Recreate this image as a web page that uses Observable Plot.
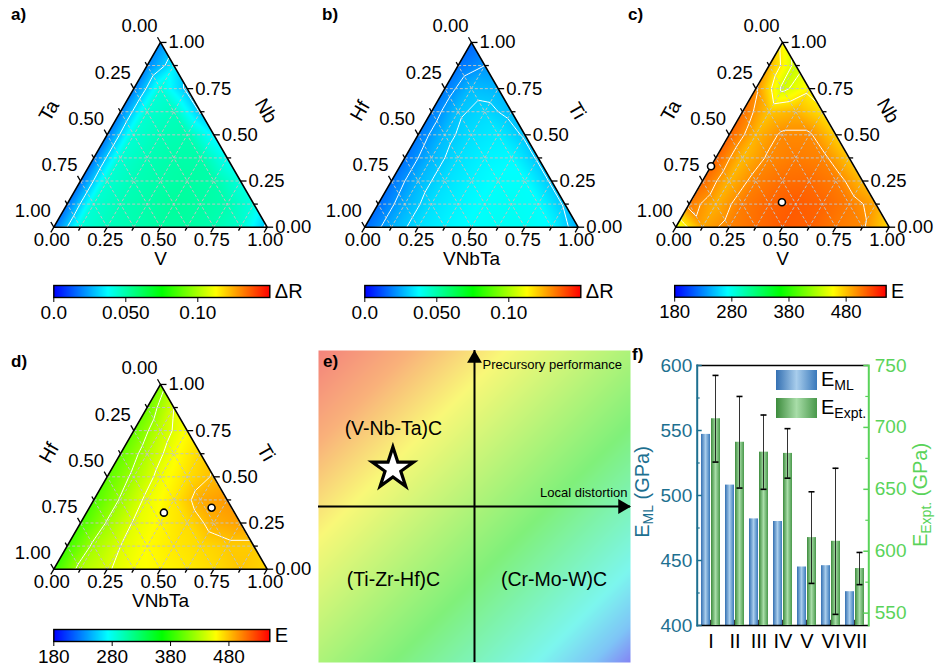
<!DOCTYPE html>
<html><head><meta charset="utf-8">
<script src="https://cdn.jsdelivr.net/npm/d3@7"></script>
<script src="https://cdn.jsdelivr.net/npm/@observablehq/plot@0.6"></script>
<style>
body{margin:0;background:#fff;font-family:"Liberation Sans",Arial,sans-serif;}
#fig{position:relative;width:935px;height:668px;overflow:hidden;background:#fff;}
.abs{position:absolute;}
.plab{position:absolute;font-weight:bold;font-size:17px;line-height:17px;color:#000;}
.rot{position:absolute;white-space:nowrap;transform:translate(-50%,-50%) rotate(-90deg);font-size:20px;line-height:20px;}
sub{font-size:70%;vertical-align:-0.3em;line-height:0;}
.leg{position:absolute;font-size:20px;line-height:20px;white-space:nowrap;}
</style></head><body>
<svg width="0" height="0" style="position:absolute">
  <defs>
    <linearGradient id="gradBlue" x1="0" x2="1" y1="0" y2="0">
      <stop offset="0" stop-color="#3470b2"/><stop offset="0.5" stop-color="#a8cdec"/><stop offset="1" stop-color="#3a79bb"/>
    </linearGradient>
    <linearGradient id="gradGreen" x1="0" x2="1" y1="0" y2="0">
      <stop offset="0" stop-color="#3c8b3c"/><stop offset="0.5" stop-color="#a8dda8"/><stop offset="1" stop-color="#48984a"/>
    </linearGradient>
  </defs>
</svg>
<div id="fig"></div>
<script>
// ===================== DATA =====================
// Ternary axis ticks
const ternaryTickValues = [0, 0.25, 0.5, 0.75, 1];
const ternaryTickText = ["0.00", "0.25", "0.50", "0.75", "1.00"];
const ternaryMinorValues = [0.125, 0.375, 0.625, 0.875];
const ternaryGridValues = [0.125, 0.25, 0.375, 0.5, 0.625, 0.75, 0.875];

// Sampled fields: row r -> right-axis fraction r/8, column c -> bottom-axis fraction c/8
// a) ΔR of V-Nb-Ta
const gridA = [
  [0.017, 0.043, 0.047, 0.049, 0.051, 0.051, 0.049, 0.045, 0.028],
  [0.017, 0.044, 0.048, 0.050, 0.052, 0.051, 0.049, 0.042],
  [0.017, 0.044, 0.048, 0.050, 0.051, 0.050, 0.042],
  [0.018, 0.044, 0.048, 0.050, 0.050, 0.039],
  [0.018, 0.044, 0.048, 0.049, 0.036],
  [0.019, 0.044, 0.047, 0.029],
  [0.019, 0.043, 0.028],
  [0.020, 0.035],
  [0.021]
];
const contoursA = [0.03];
// b) ΔR of VNbTa-Ti-Hf
const gridB = [
  [0.016, 0.026, 0.033, 0.036, 0.038, 0.039, 0.039, 0.037, 0.026],
  [0.016, 0.026, 0.033, 0.036, 0.038, 0.039, 0.038, 0.029],
  [0.017, 0.027, 0.033, 0.036, 0.038, 0.038, 0.029],
  [0.017, 0.027, 0.033, 0.036, 0.037, 0.029],
  [0.018, 0.028, 0.033, 0.035, 0.029],
  [0.018, 0.029, 0.032, 0.028],
  [0.018, 0.028, 0.027],
  [0.017, 0.022],
  [0.015]
];
const contoursB = [0.022, 0.03];
// c) E of V-Nb-Ta
const gridC = [
  [445, 490, 502, 510, 517, 515, 506, 500, 470],
  [505, 486, 505, 513, 517, 513, 505, 490],
  [512, 484, 503, 510, 511, 505, 482],
  [514, 482, 500, 505, 502, 478],
  [514, 484, 500, 500, 475],
  [510, 478, 485, 468],
  [500, 440, 460],
  [485, 438],
  [460]
];
const contoursC = [445, 465, 497];
const markersC = [{bottom: 0.0, right: 0.33}, {bottom: 0.43, right: 0.135}];
// d) E of VNbTa-Ti-Hf
const gridD = [
  [385, 428, 443, 455, 460, 465, 470, 478, 472],
  [388, 425, 445, 458, 465, 470, 476, 476],
  [390, 422, 447, 460, 470, 486, 492],
  [393, 422, 450, 465, 488, 495],
  [398, 425, 452, 468, 482],
  [400, 430, 455, 472],
  [402, 435, 458],
  [405, 445],
  [412]
];
const contoursD = [420, 445, 480];
const markersD = [{bottom: 0.363, right: 0.306}, {bottom: 0.573, right: 0.333}];

// colour bars
const jetColors = ["#0000ff", "#00ffff", "#00ff00", "#ffff00", "#ff0000"];
const deltaRStops = [0, 0.0375, 0.075, 0.1125, 0.15];
const deltaRTicks = [0, 0.05, 0.1];
const deltaRTickText = ["0.0", "0.050", "0.10"];
const eStops = [180, 272.5, 365, 457.5, 550];
const eTicks = [180, 280, 380, 480];
const eTickText = ["180", "280", "380", "480"];

// e) quadrant diagram
const bgLevels = [
  {distortion: -1, performance: 1, level: 0},
  {distortion: 1, performance: 1, level: 0.5},
  {distortion: -1, performance: -1, level: 0.5},
  {distortion: 1, performance: -1, level: 1}
];
const bgStops = [0, 0.15, 0.3, 0.62, 0.85, 0.94, 1];
const bgColors = ["#f4837c", "#f9b27a", "#f9f878", "#80f07a", "#7cf6ee", "#7ec4f6", "#8484f4"];
const quadrants = [
  {name: "(V-Nb-Ta)C", distortion: -0.52, performance: 0.5},
  {name: "(Ti-Zr-Hf)C", distortion: -0.52, performance: -0.47},
  {name: "(Cr-Mo-W)C", distortion: 0.51, performance: -0.47}
];
const starPoint = [{distortion: -0.523, performance: 0.242}];

// f) bar chart
const categories = ["I", "II", "III", "IV", "V", "VI", "VII"];
const eML = [547, 508, 482, 480, 445, 446, 426];
const eExpt = [707, 688, 680, 679, 611, 608, 586];
const eExptErr = [35, 37, 30, 20, 37, 59, 13];
const mlTicks = [400, 450, 500, 550, 600];
const mlMinorTicks = [425, 475, 525, 575];
const exptTicks = [550, 600, 650, 700, 750];
const exptMinorTicks = [575, 625, 675, 725];

// ===================== DRAWING =====================
const FONT = "Liberation Sans, Arial, sans-serif";
const fig = document.getElementById("fig");
const H3 = Math.sqrt(3) / 2;
const toXY = (b, r) => [b + r / 2, r * H3];
function place(el, left, top) {
  const d = document.createElement("div");
  d.className = "abs"; d.style.left = left + "px"; d.style.top = top + "px";
  d.appendChild(el); fig.appendChild(d); return d;
}
function html(cls, inner, left, top, color) {
  const d = document.createElement("div");
  d.className = cls; d.innerHTML = inner; d.style.left = left + "px"; d.style.top = top + "px";
  if (color) d.style.color = color;
  fig.appendChild(d); return d;
}

const S = 213.33, OX = 53.33, BASE = 226.7, TW = 310, TH = 272;
let clipCount = 0;
function ternary(cfg) {
  const samples = [];
  cfg.grid.forEach((row, r) => row.forEach((v, c) => {
    const [x, y] = toXY(c / 8, r / 8); samples.push({x, y, v});
  }));
  const gridSegs = ternaryGridValues.flatMap(t => [
    [toXY(t, 0), toXY(t, 1 - t)],
    [toXY(0, t), toXY(1 - t, t)],
    [toXY(1 - t, 0), toXY(0, 1 - t)]
  ]).map(([a, b]) => ({x1: a[0], y1: a[1], x2: b[0], y2: b[1]}));
  const edgePoint = {bottom: t => toXY(t, 0), right: t => toXY(1 - t, t), left: t => toXY(0, 1 - t)};
  const dirs = {bottom: [-0.5, -H3], right: [1, 0], left: [-0.5, H3]};
  const tickDefs = [...ternaryTickValues.map(t => ({t, len: 6})), ...ternaryMinorValues.map(t => ({t, len: 4}))];
  const tickSegs = [];
  for (const side of ["bottom", "right", "left"]) for (const {t, len} of tickDefs) {
    const [x, y] = edgePoint[side](t), [dx, dy] = dirs[side];
    tickSegs.push({x1: x, y1: y, x2: x + dx * len / S, y2: y + dy * len / S});
  }
  const labels = side => ternaryTickValues.map((t, i) => {
    const [x, y] = edgePoint[side](t); return {x, y, text: ternaryTickText[i]};
  });
  const outline = [[0, 0], [1, 0], [0, 1], [0, 0]].map(([b, r]) => toXY(b, r));
  const titleB = [{p: toXY(0.5, 0), text: cfg.titles[0]}];
  const titleR = [{p: toXY(0.5, 0.5), text: cfg.titles[1]}];
  const titleL = [{p: toXY(0, 0.5), text: cfg.titles[2]}];
  const marks = [
    Plot.raster(samples, {x: "x", y: "y", fill: "v", interpolate: "barycentric", pixelSize: 1}),
    Plot.contour(samples, {x: "x", y: "y", value: "v", interpolate: "barycentric", thresholds: cfg.thresholds,
      stroke: "white", fill: "none", strokeWidth: 1, pixelSize: 1}),
    Plot.link(gridSegs, {x1: "x1", y1: "y1", x2: "x2", y2: "y2", stroke: "#c2c2c2", strokeWidth: 1, strokeDasharray: "3,2"}),
    Plot.line(outline, {x: d => d[0], y: d => d[1], stroke: "black", strokeWidth: 1.6}),
    Plot.link(tickSegs, {x1: "x1", y1: "y1", x2: "x2", y2: "y2", stroke: "black", strokeWidth: 1.3}),
    Plot.text(labels("bottom"), {x: "x", y: "y", text: "text", dy: 13, dx: -2, fontSize: 18.5}),
    Plot.text(labels("right"), {x: "x", y: "y", text: "text", dx: 8, textAnchor: "start", fontSize: 18.5}),
    Plot.text(labels("left"), {x: "x", y: "y", text: "text", dx: -3, dy: -16, textAnchor: "end", fontSize: 18.5}),
    Plot.text(titleB, {x: d => d.p[0], y: d => d.p[1], text: "text", dy: 32, fontSize: 19}),
    Plot.text(titleR, {x: d => d.p[0], y: d => d.p[1], text: "text", dx: 52, dy: -24, rotate: 60, fontSize: 19.5}),
    Plot.text(titleL, {x: d => d.p[0], y: d => d.p[1], text: "text", dx: -58, dy: -24, rotate: -60, fontSize: 19.5})
  ];
  if (cfg.markers) marks.push(Plot.dot(cfg.markers.map(m => toXY(m.bottom, m.right)),
    {x: d => d[0], y: d => d[1], r: 3.5, fill: "white", stroke: "black", strokeWidth: 1.6}));
  const plot = Plot.plot({
    width: TW, height: TH, margin: 0,
    x: {domain: [-OX / S, (TW - OX) / S], axis: null},
    y: {domain: [(BASE - TH) / S, BASE / S], axis: null},
    color: {type: "linear", domain: cfg.stops, range: jetColors, interpolate: "rgb", clamp: true},
    style: {fontFamily: FONT, background: "transparent", overflow: "visible", color: "black"},
    marks
  });
  // clip the interpolated field and contours to the triangle
  const sx = plot.scale("x"), sy = plot.scale("y");
  const id = "triclip" + (clipCount++);
  const ns = "http://www.w3.org/2000/svg";
  const defs = document.createElementNS(ns, "defs");
  const cp = document.createElementNS(ns, "clipPath"); cp.setAttribute("id", id);
  const poly = document.createElementNS(ns, "polygon");
  poly.setAttribute("points", outline.slice(0, 3).map(([x, y]) => sx.apply(x) + "," + sy.apply(y)).join(" "));
  cp.appendChild(poly); defs.appendChild(cp); plot.insertBefore(defs, plot.firstChild);
  plot.querySelectorAll('g[aria-label="raster"], g[aria-label="contour"]').forEach(g => g.setAttribute("clip-path", `url(#${id})`));
  return plot;
}

function colorbar(cfg) {
  const d0 = cfg.stops[0], d1 = cfg.stops[cfg.stops.length - 1];
  const fmt = new Map(cfg.ticks.map((t, i) => [t, cfg.tickText[i]]));
  return Plot.plot({
    width: 320, height: cfg.height, marginLeft: 53.3, marginRight: 320 - 269.3, marginTop: 1, marginBottom: cfg.height - 13,
    x: {domain: [d0, d1]}, y: {domain: [0, 1], axis: null},
    color: {type: "linear", domain: cfg.stops, range: jetColors, interpolate: "rgb", clamp: true},
    style: {fontFamily: FONT, background: "transparent", overflow: "visible", color: "black"},
    marks: [
      Plot.raster({fill: (x, y) => x, x1: d0, x2: d1, y1: 0, y2: 1, pixelSize: 1}),
      Plot.frame({stroke: "black", strokeWidth: 1.4}),
      Plot.axisX({ticks: cfg.ticks, tickFormat: d => fmt.get(d), tickSize: 5, tickPadding: 3, fontSize: 19, label: null}),
      Plot.text([cfg.label], {text: d => d, frameAnchor: "right", dx: 5, textAnchor: "start", fontSize: 20})
    ]
  });
}

// panels a–d
place(ternary({grid: gridA, thresholds: contoursA, stops: deltaRStops, titles: ["V", "Nb", "Ta"]}), 0, 0);
place(ternary({grid: gridB, thresholds: contoursB, stops: deltaRStops, titles: ["VNbTa", "Ti", "Hf"]}), 311, 0);
place(ternary({grid: gridC, thresholds: contoursC, stops: eStops, titles: ["V", "Nb", "Ta"], markers: markersC}), 621.7, 0);
place(ternary({grid: gridD, thresholds: contoursD, stops: eStops, titles: ["VNbTa", "Ti", "Hf"], markers: markersD}), 0, 341.6);
place(colorbar({stops: deltaRStops, ticks: deltaRTicks, tickText: deltaRTickText, label: "ΔR", height: 44}), 0, 284);
place(colorbar({stops: deltaRStops, ticks: deltaRTicks, tickText: deltaRTickText, label: "ΔR", height: 44}), 311, 284);
place(colorbar({stops: eStops, ticks: eTicks, tickText: eTickText, label: "E", height: 44}), 621.7, 284);
place(colorbar({stops: eStops, ticks: eTicks, tickText: eTickText, label: "E", height: 40}), 0, 628);

// panel e
const ePlot = Plot.plot({
  width: 312, height: 312, margin: 0,
  x: {domain: [-1, 1], axis: null}, y: {domain: [-1, 1], axis: null},
  color: {type: "linear", domain: bgStops, range: bgColors, interpolate: "rgb"},
  style: {fontFamily: FONT, background: "transparent", overflow: "visible", color: "black"},
  marks: [
    Plot.raster(bgLevels, {x: "distortion", y: "performance", fill: "level", interpolate: "barycentric", pixelSize: 1}),
    Plot.ruleY([0], {stroke: "black", strokeWidth: 2}),
    Plot.ruleX([0], {stroke: "black", strokeWidth: 2}),
    Plot.dot([0], {y: d => d, frameAnchor: "right", symbol: "triangle", rotate: 90, r: 5.5, fill: "black", dx: -8}),
    Plot.dot([0], {x: d => d, frameAnchor: "top", symbol: "triangle", r: 5.5, fill: "black", dy: 8}),
    Plot.text(["Precursory performance"], {x: 0, text: d => d, frameAnchor: "top", dx: 8, dy: 9, textAnchor: "start", fontSize: 13}),
    Plot.text(["Local distortion"], {y: 0, text: d => d, frameAnchor: "right", dx: -3, dy: -14, textAnchor: "end", fontSize: 13}),
    Plot.text(quadrants, {x: "distortion", y: "performance", text: "name", fontSize: 19.5}),
    Plot.dot(starPoint, {x: "distortion", y: "performance", symbol: "star", r: 13, fill: "white", stroke: "black", strokeWidth: 3.2})
  ]
});
place(ePlot, 318.3, 350);

// panel f
const fData = categories.map((cat, i) => ({cat, ml: eML[i], expt: eExpt[i], err: eExptErr[i]}));
const FW = 305, FH = 328, FML = 66.7, FMR = 66.7, FMT = 25, FMB = 43;
const fw = FW - FML - FMR;
const PI = 0.19, PO = 0.07;
const step = fw / (categories.length - PI + 2 * PO), bw = step * (1 - PI), half = bw / 2;
const teal = "#1d7090", green = "#5ad35a";
const mlDomain = [400, 600], exptDomain = [540, 750];
const xBand = {type: "band", domain: categories, paddingInner: PI, paddingOuter: PO, axis: null};
const f1 = Plot.plot({
  width: FW, height: FH, marginLeft: FML, marginRight: FMR, marginTop: FMT, marginBottom: FMB,
  x: xBand, y: {domain: mlDomain, axis: null},
  style: {fontFamily: FONT, background: "transparent", overflow: "visible", color: "black"},
  marks: [
    Plot.barY(fData, {x: "cat", y1: mlDomain[0], y2: "ml", fill: "url(#gradBlue)", insetRight: half}),
    Plot.barY(categories, {x: d => d, y1: mlDomain[0], y2: mlDomain[0] + 4, fill: "black", insetLeft: half - 0.9, insetRight: half - 0.9}),
    Plot.ruleY(mlDomain, {stroke: "black", strokeWidth: 1.6}),
    Plot.tickY(mlTicks, {y: d => d, stroke: teal, strokeWidth: 1.5, insetRight: fw - 5}),
    Plot.tickY(mlMinorTicks, {y: d => d, stroke: teal, strokeWidth: 1.2, insetRight: fw - 3}),
    Plot.frame({anchor: "left", stroke: teal, strokeWidth: 2}),
    Plot.axisY({anchor: "left", ticks: mlTicks, tickSize: 0, tickPadding: 5, color: teal, fontSize: 19, label: null}),
    Plot.axisX({tickSize: 0, tickPadding: 8, fontSize: 20, label: null})
  ]
});
const f2 = Plot.plot({
  width: FW, height: FH, marginLeft: FML, marginRight: FMR, marginTop: FMT, marginBottom: FMB,
  x: xBand, y: {domain: exptDomain, axis: null},
  style: {fontFamily: FONT, background: "transparent", overflow: "visible", color: "black"},
  marks: [
    Plot.barY(fData, {x: "cat", y1: exptDomain[0], y2: "expt", fill: "url(#gradGreen)", insetLeft: half}),
    Plot.barY(fData, {x: "cat", y1: d => d.expt - d.err, y2: d => d.expt + d.err, fill: "#000",
      insetLeft: half + half / 2 - 0.9, insetRight: half / 2 - 0.9}),
    Plot.tickY(fData, {x: "cat", y: d => d.expt + d.err, stroke: "#000", strokeWidth: 1.6, insetLeft: half + half / 2 - 3.5, insetRight: half / 2 - 3.5}),
    Plot.tickY(fData, {x: "cat", y: d => d.expt - d.err, stroke: "#000", strokeWidth: 1.6, insetLeft: half + half / 2 - 3.5, insetRight: half / 2 - 3.5}),
    Plot.tickY(exptTicks, {y: d => d, stroke: green, strokeWidth: 1.5, insetLeft: fw - 5}),
    Plot.tickY(exptMinorTicks, {y: d => d, stroke: green, strokeWidth: 1.2, insetLeft: fw - 3}),
    Plot.frame({anchor: "right", stroke: green, strokeWidth: 2}),
    Plot.axisY({anchor: "right", ticks: exptTicks, tickSize: 0, tickPadding: 6, color: green, fontSize: 19, label: null})
  ]
});
place(f1, 630, 340);
place(f2, 630, 340);

// legend of f
const sw1 = document.createElement("div");
sw1.className = "abs"; Object.assign(sw1.style, {left: "776px", top: "370px", width: "41px", height: "20px", background: "linear-gradient(90deg,#3470b2,#a8cdec 50%,#3a79bb)"});
fig.appendChild(sw1);
const sw2 = document.createElement("div");
sw2.className = "abs"; Object.assign(sw2.style, {left: "776px", top: "398px", width: "41px", height: "20px", background: "linear-gradient(90deg,#3c8b3c,#a8dda8 50%,#48984a)"});
fig.appendChild(sw2);
html("leg", "E<sub>ML</sub>", 821, 369);
html("leg", "E<sub>Expt.</sub>", 821, 397);
html("rot", "E<sub>ML</sub> (GPa)", 642, 492, teal);
html("rot", "E<sub>Expt.</sub> (GPa)", 920, 495, green);

// panel labels
html("plab", "a)", 11, 6);
html("plab", "b)", 322, 6);
html("plab", "c)", 628, 6);
html("plab", "d)", 11, 353);
html("plab", "e)", 323, 353);
html("plab", "f)", 632, 346);
</script>
</body></html>
